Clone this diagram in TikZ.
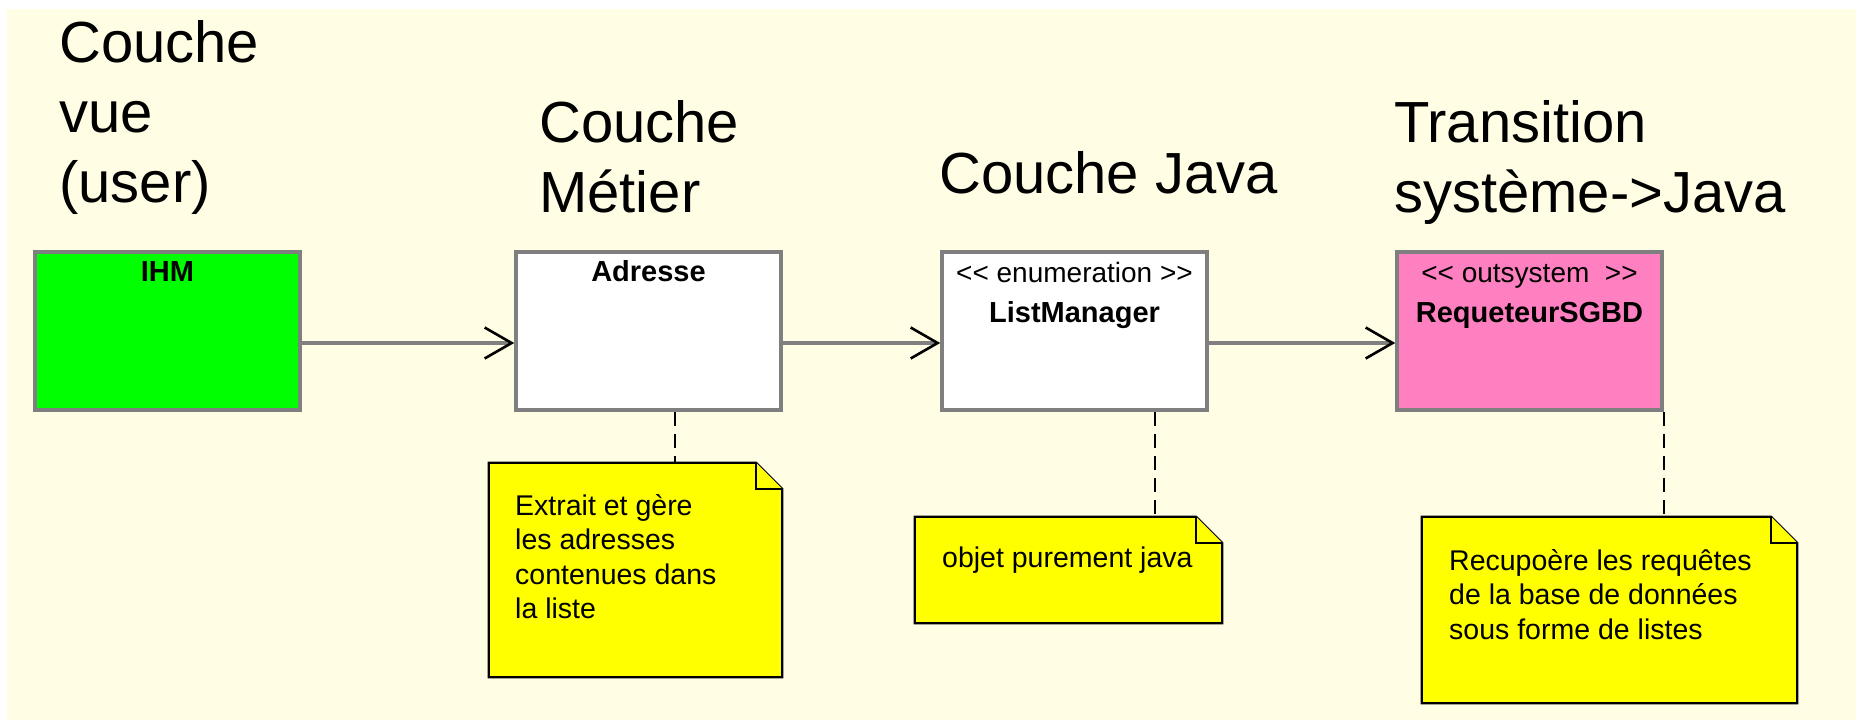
\documentclass[tikz,border=0pt]{standalone}
\usepackage{fontspec}
\setmainfont{Liberation Sans}
\usetikzlibrary{arrows.meta}
\definecolor{cream}{HTML}{FFFEE4}
\definecolor{ihmgreen}{HTML}{00FF00}
\definecolor{sgbdpink}{HTML}{FF80C0}
\definecolor{noteyellow}{HTML}{FFFF00}
\definecolor{boxgray}{HTML}{7F7F7F}
\definecolor{arrowgray}{HTML}{808080}
\newcommand{\dognote}[1]{%
  \filldraw[notepath] (#1.north west) -- ([xshift=-26pt]#1.north east) -- ([yshift=-26pt]#1.north east) -- (#1.south east) -- (#1.south west) -- cycle;
  \draw[notepath] ([xshift=-26pt]#1.north east) -- ([xshift=-26pt,yshift=-26pt]#1.north east) -- ([yshift=-26pt]#1.north east);
}
\begin{document}
\begin{tikzpicture}[x=1pt,y=-1pt,
  classbox/.style={rectangle, inner sep=0pt, minimum width=265pt, minimum height=158pt, draw=boxgray, line width=3.5pt},
  heading/.style={anchor=north west, inner sep=0pt, align=left, font=\fontsize{58}{70}\selectfont},
  boxname/.style={anchor=base, inner sep=0pt, font=\bfseries\fontsize{29}{34}\selectfont},
  stereo/.style={anchor=base, inner sep=0pt, font=\fontsize{28}{34}\selectfont},
  notebox/.style={rectangle, inner sep=0pt},
  notepath/.style={fill=noteyellow, draw=black, line width=2.2pt, line join=miter},
  notetext/.style={anchor=north west, inner sep=0pt, align=left, font=\fontsize{28.5}{34.5}\selectfont},
  flow/.style={draw=arrowgray, line width=4pt, -{Straight Barb[length=27pt, width=31pt, line width=2.6pt, color=black]}},
  dashline/.style={draw=black, line width=2pt, dash pattern=on 14pt off 8pt}
]
\useasboundingbox (0,0) rectangle (1856,720);
\fill[white] (0,0) rectangle (1856,720);
\fill[cream] (7,9) rectangle (1856,720);

% headings
\node[heading] (h1) at (59,20) {Couche\\vue\\(user)};
\node[heading] (h2) at (539,100) {Couche\\Métier};
\node[heading] (h3) at (939,151) {Couche Java};
\node[heading] (h4) at (1394,100) {Transition\\système->Java};

% class boxes
\node[classbox, fill=ihmgreen] (ihm) at (167.5,331) {};
\node[classbox, fill=white] (adr) at (648.5,331) {};
\node[classbox, fill=white] (lm) at (1074.5,331) {};
\node[classbox, fill=sgbdpink] (rq) at (1529.5,331) {};

\node[boxname] (tihm) at ([yshift=-31pt]ihm.north) {IHM};
\node[boxname] (tadr) at ([yshift=-31pt]adr.north) {Adresse};
\node[stereo] (slm) at ([yshift=-32pt]lm.north) {{<}{<} enumeration {>}{>}};
\node[boxname] (tlm) at ([yshift=-72pt]lm.north) {ListManager};
\node[stereo] (srq) at ([yshift=-32pt]rq.north) {{<}{<} outsystem \ {>}{>}};
\node[boxname] (trq) at ([yshift=-72pt]rq.north) {RequeteurSGBD};

% arrows
\draw[flow] ([yshift=-12pt]ihm.east) -- ([yshift=-12pt]adr.west);
\draw[flow] ([yshift=-12pt]adr.east) -- ([yshift=-12pt]lm.west);
\draw[flow] ([yshift=-12pt]lm.east) -- ([yshift=-12pt]rq.west);

% notes
\node[notebox, minimum width=293pt, minimum height=214pt] (n1) at (635.5,570) {};
\node[notebox, minimum width=307pt, minimum height=106pt] (n2) at (1068.5,570) {};
\node[notebox, minimum width=375pt, minimum height=186pt] (n3) at (1609.5,610) {};

\coordinate (d1) at (675,0);
\coordinate (d2) at (1155,0);
\draw[dashline] (adr.south -| d1) -- (n1.north -| d1);
\draw[dashline] (lm.south -| d2) -- (n2.north -| d2);
\draw[dashline] (rq.south east) -- (rq.south east |- n3.north);

\dognote{n1}
\dognote{n2}
\dognote{n3}

\node[notetext] (tn1) at (515,494) {Extrait et gère\\les adresses\\contenues dans\\la liste};
\node[notetext] (tn2) at (942,547) {objet purement java};
\node[notetext] (tn3) at (1449,549) {Recupoère les requêtes\\de la base de données\\sous forme de listes};
\end{tikzpicture}
\end{document}
